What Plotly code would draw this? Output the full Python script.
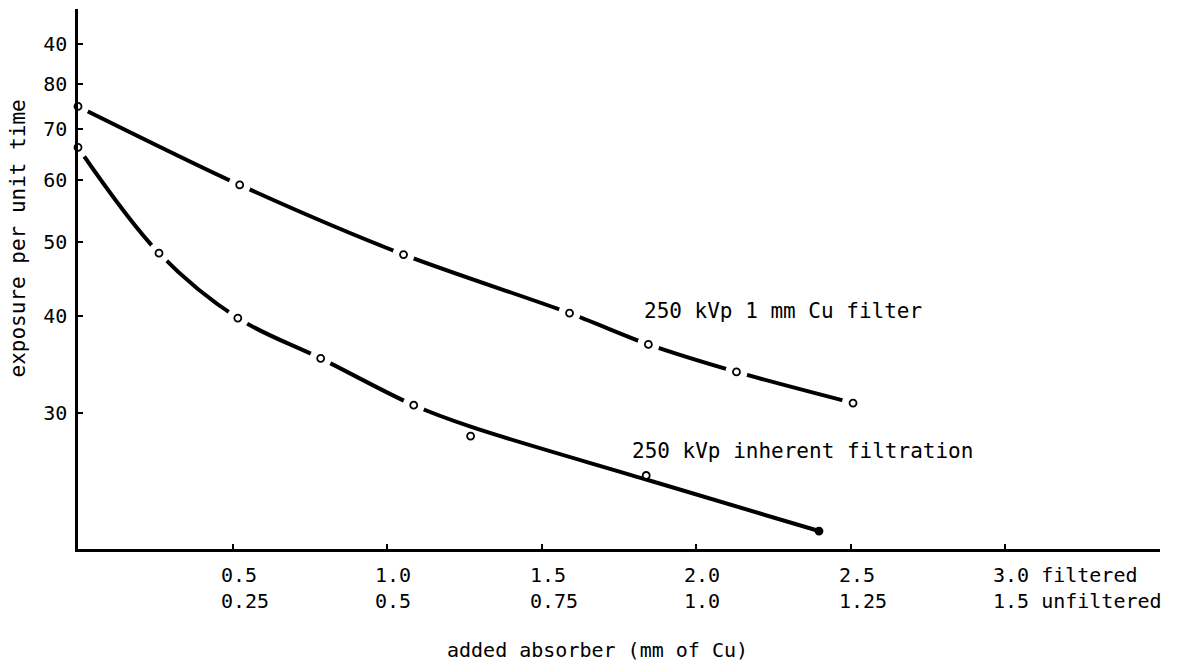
import math
import plotly.graph_objects as go

# ---- data ----
upper_x = [0.0, 0.523, 1.053, 1.59, 1.845, 2.13, 2.507]
upper_y = [74.8, 59.2, 48.1, 40.4, 36.8, 33.9, 30.9]
upper_name = "250 kVp 1 mm Cu filter"

lower_x = [0.0, 0.262, 0.517, 0.785, 1.086, 1.27, 1.838, 2.397]
lower_y = [66.2, 48.3, 39.8, 35.3, 30.7, 28.0, 24.9, 21.1]
lower_curve_y = [66.2, 48.3, 39.8, 35.3, 30.7, 28.8, 24.6, 21.1]
lower_gap = [True, True, True, True, True, False, False, False]
lower_name = "250 kVp inherent filtration"

x_tick_vals = [0.5, 1.0, 1.5, 2.0, 2.5, 3.0]
x_tick_top = ["0.5", "1.0", "1.5", "2.0", "2.5", "3.0 filtered"]
x_tick_bottom = ["0.25", "0.5", "0.75", "1.0", "1.25", "1.5 unfiltered"]

y_tick_vals = [30, 40, 50, 60, 70, 80, 90, 100]
y_tick_text = ["30", "40", "50", "60", "70", "80", "40", ""]

x_title = "added absorber (mm of Cu)"
y_title = "exposure per unit time"

FONT = "DejaVu Sans Mono"
fig = go.Figure()

# curve lines
fig.add_trace(go.Scatter(x=upper_x, y=upper_y, mode="lines",
                         line=dict(color="black", width=4, shape="spline", smoothing=0.8),
                         hoverinfo="skip", showlegend=False))
fig.add_trace(go.Scatter(x=lower_x, y=lower_curve_y, mode="lines",
                         line=dict(color="black", width=4, shape="spline", smoothing=1.0),
                         hoverinfo="skip", showlegend=False))

# white gaps around points
gx = upper_x + [x for x, g in zip(lower_x, lower_gap) if g]
gy = upper_y + [y for y, g in zip(lower_y, lower_gap) if g]
fig.add_trace(go.Scatter(x=gx, y=gy, mode="markers",
                         marker=dict(color="white", size=22, line=dict(width=0)),
                         cliponaxis=False, hoverinfo="skip", showlegend=False))

# point markers
fig.add_trace(go.Scatter(x=upper_x, y=upper_y, mode="markers", name=upper_name,
                         marker=dict(symbol="circle", color="white", size=7,
                                     line=dict(color="black", width=1.8)),
                         cliponaxis=False, showlegend=False))
lower_fill = ["white"] * (len(lower_x) - 1) + ["black"]
fig.add_trace(go.Scatter(x=lower_x, y=lower_y, mode="markers", name=lower_name,
                         marker=dict(symbol="circle", color=lower_fill, size=7,
                                     line=dict(color="black", width=1.8)),
                         cliponaxis=False, showlegend=False))

# curve labels
fig.add_annotation(x=1.823, y=math.log10(40.6), xref="x", yref="y", text=upper_name,
                   showarrow=False, xanchor="left", yanchor="middle",
                   font=dict(family=FONT, size=21, color="black"))
fig.add_annotation(x=1.785, y=math.log10(26.8), xref="x", yref="y", text=lower_name,
                   showarrow=False, xanchor="left", yanchor="middle",
                   font=dict(family=FONT, size=21, color="black"))

# x tick labels (two lines, left aligned)
for v, a, b in zip(x_tick_vals, x_tick_top, x_tick_bottom):
    fig.add_annotation(x=v, y=0, xref="x", yref="paper", text=f"{a}<br>{b}",
                       showarrow=False, xanchor="left", yanchor="top", align="left",
                       xshift=-14, yshift=-12,
                       font=dict(family=FONT, size=20, color="black"))

# axis titles
fig.add_annotation(x=(597 - 78) / 1082, y=-0.187, xref="paper", yref="paper",
                   text=x_title, showarrow=False, xanchor="center", yanchor="middle",
                   font=dict(family=FONT, size=20, color="black"))
fig.add_annotation(x=-0.0555, y=0.575, xref="paper", yref="paper",
                   text=y_title, showarrow=False, textangle=-90,
                   xanchor="center", yanchor="middle",
                   font=dict(family=FONT, size=21, color="black"))

fig.update_layout(
    width=1187, height=665,
    margin=dict(l=78, r=27, t=9, b=116),
    paper_bgcolor="white", plot_bgcolor="white",
    xaxis=dict(range=[0, 3.5], showgrid=False, zeroline=False,
               showline=True, linecolor="black", linewidth=2.5,
               ticks="inside", ticklen=5, tickwidth=2, tickcolor="black",
               tickvals=x_tick_vals, showticklabels=False),
    yaxis=dict(type="log", range=[math.log10(20), 2], showgrid=False, zeroline=False,
               showline=True, linecolor="black", linewidth=2.5,
               ticks="inside", ticklen=5, tickwidth=2, tickcolor="black",
               tickvals=y_tick_vals, ticktext=y_tick_text,
               tickfont=dict(family=FONT, size=20, color="black"),
               ticklabelstandoff=4),
)

fig.write_html("out.html")
